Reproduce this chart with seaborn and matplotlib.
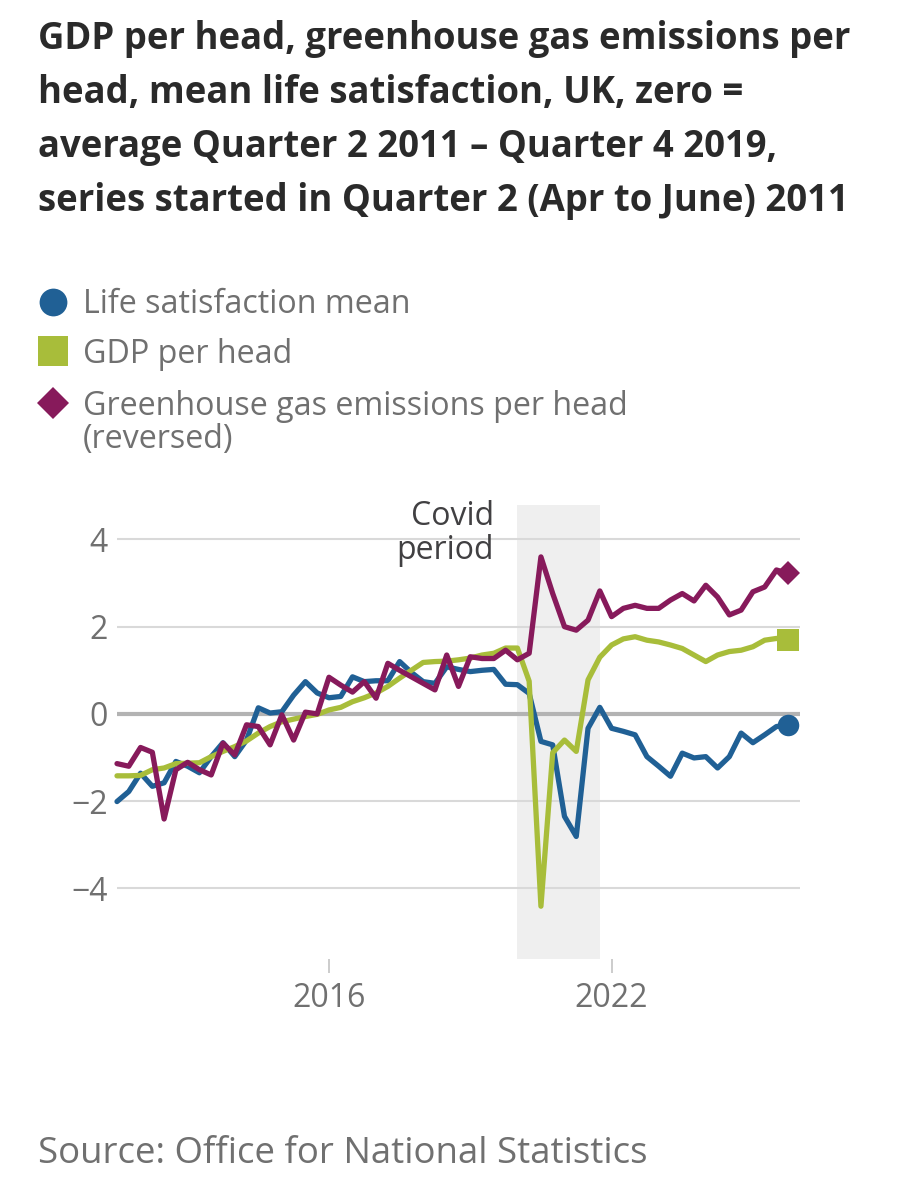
import numpy as np
import pandas as pd
import matplotlib
matplotlib.use("Agg")
import matplotlib.pyplot as plt
import seaborn as sns

# ---------------- data ----------------
start_year, start_q = 2011, 2
life_satisfaction = [-2.01, -1.78, -1.36, -1.66, -1.58, -1.09, -1.20, -1.35, -0.98, -0.66, -0.98, -0.60,
                     0.14, 0.02, 0.05, 0.43, 0.74, 0.48, 0.37, 0.40, 0.85, 0.74, 0.76, 0.76,
                     1.20, 0.95, 0.74, 0.70, 1.08, 1.02, 0.97, 1.00, 1.02, 0.68, 0.67, 0.47,
                     -0.63, -0.71, -2.35, -2.81, -0.33, 0.15, -0.33, -0.40, -0.48, -0.98, -1.20, -1.43,
                     -0.90, -1.01, -0.98, -1.24, -0.98, -0.44, -0.66, -0.48, -0.29, -0.25]
gdp_per_head = [-1.42, -1.42, -1.41, -1.28, -1.24, -1.14, -1.13, -1.12, -0.98, -0.86, -0.75, -0.62,
                -0.44, -0.29, -0.18, -0.12, -0.06, -0.01, 0.09, 0.15, 0.28, 0.37, 0.48, 0.63,
                0.82, 1.00, 1.18, 1.20, 1.21, 1.24, 1.28, 1.35, 1.39, 1.51, 1.51, 0.75,
                -4.41, -0.89, -0.60, -0.86, 0.78, 1.30, 1.58, 1.72, 1.77, 1.69, 1.65, 1.58,
                1.50, 1.35, 1.20, 1.35, 1.43, 1.46, 1.54, 1.69, 1.73, 1.70]
ghg_reversed = [-1.14, -1.20, -0.77, -0.88, -2.41, -1.28, -1.11, -1.28, -1.40, -0.67, -0.94, -0.25,
                -0.29, -0.71, -0.02, -0.60, 0.04, 0.00, 0.84, 0.66, 0.50, 0.74, 0.36, 1.16,
                1.00, 0.85, 0.70, 0.55, 1.35, 0.63, 1.31, 1.27, 1.27, 1.46, 1.24, 1.39,
                3.60, 2.76, 2.00, 1.92, 2.15, 2.82, 2.23, 2.42, 2.49, 2.42, 2.42, 2.61,
                2.76, 2.59, 2.95, 2.68, 2.27, 2.38, 2.80, 2.91, 3.30, 3.22]
series_names = ["Life satisfaction mean", "GDP per head",
                "Greenhouse gas emissions per head\n(reversed)"]
series_colors = ["#206095", "#a8bd3a", "#871a5b"]
series_markers = ["o", "s", "D"]
y_ticks = [-4, -2, 0, 2, 4]
x_tick_years = [2016, 2022]
covid_start, covid_end = 2020.0, 2021.75

n = len(life_satisfaction)
# quarter-end decimal year positions
quarter_index = np.arange(n) + (start_q - 1)
x_pos = start_year + (quarter_index + 1) * 0.25

df = pd.concat([
    pd.DataFrame({"x": x_pos, "value": vals, "series": name})
    for name, vals in zip(series_names, [life_satisfaction, gdp_per_head, ghg_reversed])
])

# ---------------- style ----------------
sns.set_theme(style="white")
plt.rcParams["font.family"] = ["Open Sans", "DejaVu Sans"]
plt.rcParams["axes.unicode_minus"] = True

W, H = 906, 1200
fig = plt.figure(figsize=(W / 100, H / 100), dpi=100)
fig.patch.set_facecolor("white")

ax_left, ax_right, ax_top, ax_bottom = 117, 800, 505, 959
ax = fig.add_axes([ax_left / W, 1 - ax_bottom / H, (ax_right - ax_left) / W, (ax_bottom - ax_top) / H])
ax.set_facecolor("none")

ax.axvspan(covid_start, covid_end, color="#efefef", zorder=0, lw=0)
for yt in y_ticks:
    if yt == 0:
        ax.axhline(yt, color="#b3b3b3", lw=3.0, zorder=1)
    else:
        ax.axhline(yt, color="#d9d9d9", lw=1.5, zorder=1)

sns.lineplot(data=df, x="x", y="value", hue="series", hue_order=series_names,
             palette=dict(zip(series_names, series_colors)), linewidth=3.8,
             legend=False, ax=ax, zorder=3, solid_joinstyle="round", solid_capstyle="round")
for line in ax.get_lines()[-3:]:
    line.set_clip_on(False)

end_sizes = [15.5, 16.5, 12.5]
for name, col, mk, ms, vals in zip(series_names, series_colors, series_markers, end_sizes,
                                  [life_satisfaction, gdp_per_head, ghg_reversed]):
    ax.plot([x_pos[-1]], [vals[-1]], marker=mk, color=col, markersize=ms, lw=0,
            zorder=4, clip_on=False, markeredgewidth=0)

ax.set_xlim(2011.5, 2026.0)
ax.set_ylim(-5.62, 4.79)
ax.set_xticks(x_tick_years)
ax.set_xticklabels([str(y) for y in x_tick_years])
ax.set_yticks(y_ticks)
ax.set_yticklabels([str(t).replace("-", "\u2212") for t in y_ticks])
ax.tick_params(axis="x", length=10, width=1.4, color="#cccccc", pad=6.5,
               labelsize=23, labelcolor="#707070", direction="out", bottom=True)
ax.tick_params(axis="y", length=0, pad=6.5, labelsize=23, labelcolor="#707070", left=True)
ax.set_xlabel("")
ax.set_ylabel("")
for s in ax.spines.values():
    s.set_visible(False)
ax.grid(False)

# ---------------- overlay for text / legend ----------------
ov = fig.add_axes([0, 0, 1, 1], zorder=10)
ov.set_xlim(0, W)
ov.set_ylim(H, 0)
ov.axis("off")
ov.patch.set_alpha(0)

title_lines = ["GDP per head, greenhouse gas emissions per",
               "head, mean life satisfaction, UK, zero =",
               "average Quarter 2 2011 \u2013 Quarter 4 2019,",
               "series started in Quarter 2 (Apr to June) 2011"]
for i, t in enumerate(title_lines):
    ov.text(38, 49 + 54 * i, t, fontsize=26.3, fontweight="bold", color="#2a2a2a",
            ha="left", va="baseline")

legend_baselines = [313, 363, 415]
legend_marker_y = [301.5, 351, 403]
legend_marker_sizes = [20, 21, 16.8]
for name, col, mk, ms, by, my in zip(series_names, series_colors, series_markers,
                                     legend_marker_sizes, legend_baselines, legend_marker_y):
    ov.plot([53], [my], marker=mk, color=col, markersize=ms, lw=0, markeredgewidth=0)
    first, *rest = name.split("\n")
    ov.text(83, by, first, fontsize=23.2, color="#707070", ha="left", va="baseline")
    for j, r in enumerate(rest):
        ov.text(83, by + 33 * (j + 1), r, fontsize=23.2, color="#707070", ha="left", va="baseline")

ov.text(494, 525, "Covid", fontsize=23, color="#414042", ha="right", va="baseline")
ov.text(494, 559, "period", fontsize=23, color="#414042", ha="right", va="baseline")

ov.text(38, 1163, "Source: Office for National Statistics", fontsize=26.4, color="#707070",
        ha="left", va="baseline")

fig.savefig("out.png", dpi=100, facecolor="white")
